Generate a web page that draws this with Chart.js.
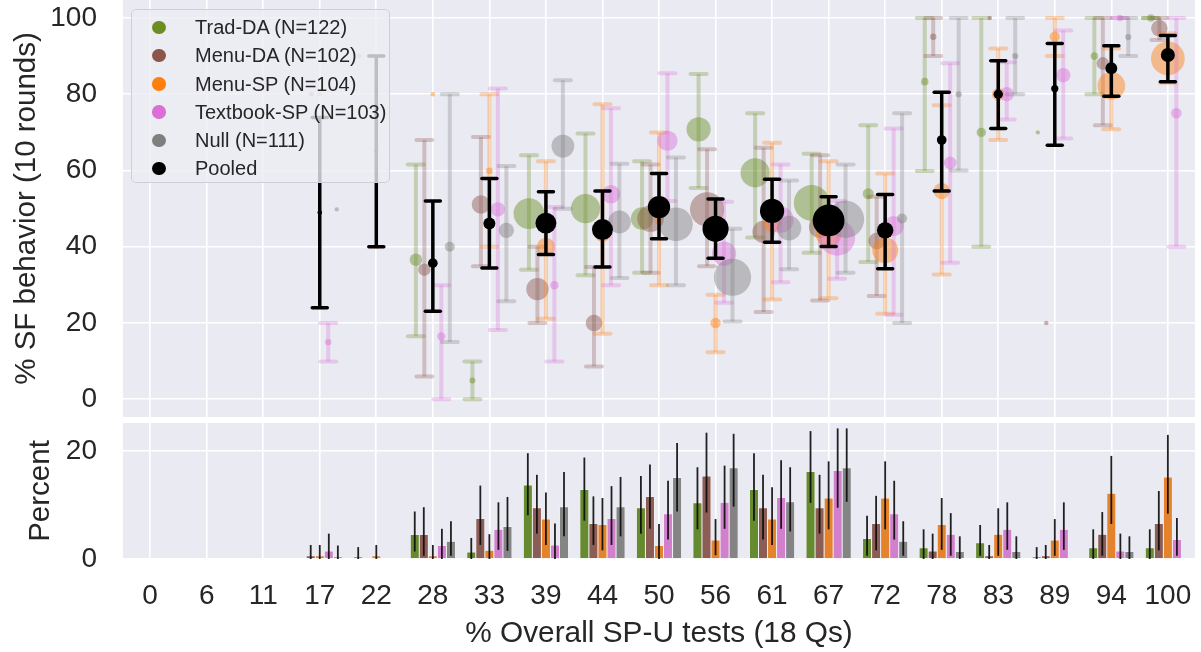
<!DOCTYPE html>
<html>
<head>
<meta charset="UTF-8" />
<script src="https://cdn.jsdelivr.net/npm/chart.js"></script>
<style>
  body { margin: 0; background: #fff; }
  #wrap { position: relative; width: 1201px; height: 652px; font-family: "Liberation Sans", Arial, sans-serif; color: #262626; }
  #topChart { position: absolute; left: 0; top: 0; }
  #bottomChart { position: absolute; left: 0; top: 420px; }
  .legend {
    position: absolute; left: 131px; top: 9px; width: 259px; height: 174px;
    background: rgba(236, 236, 243, 0.8); border: 1.5px solid #cfcfd4; border-radius: 5px;
    font-size: 20px; box-sizing: border-box; padding-top: 3px;
  }
  .legend div { height: 28.3px; line-height: 28.3px; position: relative; padding-left: 63px; white-space: nowrap; }
  .legend span { position: absolute; left: 20px; top: 7.5px; width: 13.5px; height: 13.5px; border-radius: 50%; }
</style>
</head>
<body>
<div id="wrap">
  <canvas id="topChart" width="1201" height="417"></canvas>
  <canvas id="bottomChart" width="1201" height="232"></canvas>
  <div class="legend" id="legend"></div>
</div>
<script>
// x categories (% overall SP-U tests)
const labels = ["0", "6", "11", "17", "22", "28", "33", "39", "44", "50", "56", "61", "67", "72", "78", "83", "89", "94", "100"];
const topTicks = [0, 20, 40, 60, 80, 100];
const bottomTicks = [0, 20];

const groupNames = ["Trad-DA (N=122)", "Menu-DA (N=102)", "Menu-SP (N=104)", "Textbook-SP (N=103)", "Null (N=111)"];
const groupN = [122, 102, 104, 103, 111];

// top panel: mean % SF behavior and CI per group
const tradMean = [null, null, null, null, 90, 36.6, 4.9, 48.7, 50, 47.4, 70.8, 59.4, 51.5, 53.9, 83.3, 70, 70, 90, 100];
const tradLo   = [null, null, null, null, null, 16.5, 0, 34, 32.5, 33.2, 55.4, 42.4, 38.4, 36, 59.9, 40, null, 80, 100];
const tradHi   = [null, null, null, null, null, 61.6, 9.9, 64, 69.7, 62.4, 85.3, 75, 64.4, 71.9, 100, 100, null, 100, 100];

const menuDAMean = [null, null, null, 80, null, 34, 51.1, 28.9, 20, 47.4, 49.8, 43.9, 45.2, 41.5, 95.1, 100, 20, 88.1, 97.3];
const menuDALo   = [null, null, null, null, null, 6, 34.9, 20, 8.6, 33.2, 34.9, 22.9, 25.9, 27.1, 90, null, null, 71.9, 94.2];
const menuDAHi   = [null, null, null, null, null, 68, 68.8, 40, 34.7, 61.6, 65.6, 66, 64, 53.1, 100, null, null, 100, 100];

const menuSPMean = [null, null, null, 80, 40, 80, 59.9, 40, 43.4, 46.9, 20, 46.2, 43.4, 39.1, 54.6, 80, 95.1, 82.2, 89.4];
const menuSPLo   = [null, null, null, null, null, null, 40, 21.1, 17.2, 29.9, 12.3, 26.2, 26.5, 22.4, 32.7, 68, 90, 70.8, 83];
const menuSPHi   = [null, null, null, null, null, null, 80, 62.4, 77.4, 70, 27.4, 67.3, 62.4, 59.2, 77.1, 92, 100, 92, 96];

const textMean = [null, null, null, 15, null, 16.5, 49.8, 29.9, 53.8, 67.8, 38.2, 47.1, 42.4, 45.4, 62, 80, 85, 100, 75];
const textLo   = [null, null, null, 9.9, null, 0, 18.2, 9.9, 29.9, 52, 25.3, 30.7, 31.6, 22.2, 35.8, 73.4, 68.4, 100, 40];
const textHi   = [null, null, null, 20, null, 29.9, 81.5, 50.4, 76.3, 85.5, 51.8, 61.6, 52, 71, 88.1, 88.4, 96.7, 100, 100];

const nullMean = [null, null, null, 49.8, null, 40, 44.3, 66.4, 46.5, 45.9, 32, 44.9, 47.2, 47.4, 80, 90, null, 95, null];
const nullLo   = [null, null, null, null, null, 15, 25.7, 50, 31.8, 29.9, 20.4, 34.1, 33.2, 20, 60, 80, null, 90, null];
const nullHi   = [null, null, null, null, null, 80, 61.2, 83.7, 61.8, 63.4, 44.7, 57.4, 61.6, 75, 100, 100, null, 100, null];

const pooledMean = [null, null, null, 49, 65, 35.7, 46.1, 46.2, 44.5, 50.4, 44.7, 49.4, 46.9, 44.3, 68, 80, 81.5, 86.8, 90.3];
const pooledLo   = [null, null, null, 24, 40, 23.1, 34.4, 38, 34.7, 42.1, 37, 41.2, 40.1, 34.2, 54.6, 71, 66.6, 79.5, 83.3];
const pooledHi   = [null, null, null, 73.9, 90, 52, 57.9, 54.4, 54.6, 59.2, 52.5, 57.7, 53.1, 53.7, 80.5, 88.8, 93.3, 92.7, 95.4];

// bottom panel: percent of each group in each category, with CI
const tradPct   = [0, 0, 0, 0, 0.4, 4.55, 1.3, 13.7, 12.9, 9.5, 10.4, 12.9, 16.2, 3.8, 2.1, 3.0, 0.4, 2.1, 2.1];
const tradPctLo = [0, 0, 0, 0, 0, 1.4, 0, 8.1, 7.1, 4.7, 5.5, 7.1, 10.4, 0.6, 0, 0.6, 0, 0, 0];
const tradPctHi = [0, 0, 0, 0, 2.2, 8.8, 3.9, 19.6, 18.8, 15.4, 17.0, 19.6, 23.7, 8.0, 5.5, 6.3, 2.2, 5.5, 5.5];

const menuDAPct   = [0, 0, 0, 0.6, 0, 4.55, 7.5, 9.5, 6.6, 11.6, 15.4, 9.5, 9.5, 6.6, 1.5, 0.6, 0.6, 4.6, 6.6];
const menuDAPctLo = [0, 0, 0, 0, 0, 0.6, 2.6, 4.7, 2.6, 5.6, 8.6, 3.6, 4.7, 1.6, 0, 0, 0, 0.6, 1.6];
const menuDAPctHi = [0, 0, 0, 2.6, 0, 9.6, 13.6, 15.6, 11.6, 17.5, 23.4, 15.6, 15.6, 11.7, 4.7, 2.6, 2.6, 8.7, 12.6];

const menuSPPct   = [0, 0, 0, 0.6, 0.6, 0.6, 1.6, 7.4, 6.4, 2.5, 3.5, 7.4, 11.3, 11.3, 6.4, 4.6, 3.5, 12.2, 15.2];
const menuSPPctLo = [0, 0, 0, 0, 0, 0, 0, 2.6, 1.6, 0, 0.7, 2.6, 5.5, 5.5, 1.7, 0.6, 0.6, 6.5, 8.4];
const menuSPPctHi = [0, 0, 0, 2.6, 2.6, 2.6, 4.6, 12.3, 11.3, 6.5, 7.4, 13.3, 18.1, 18.1, 11.3, 9.4, 7.4, 19.1, 23.0];

const textPct   = [0, 0, 0, 1.5, 0, 2.5, 5.5, 2.6, 7.5, 8.4, 10.5, 11.4, 16.4, 8.4, 4.6, 5.5, 5.5, 1.5, 3.6];
const textPctLo = [0, 0, 0, 0, 0, 0, 1.7, 0, 2.6, 3.6, 5.6, 5.6, 9.5, 3.6, 0.6, 1.7, 1.7, 0, 0.6];
const textPctHi = [0, 0, 0, 4.7, 0, 5.6, 10.5, 6.6, 13.5, 14.5, 17.3, 18.3, 24.2, 14.5, 8.5, 10.5, 10.5, 4.7, 7.6];

const nullPct   = [0, 0, 0, 0.4, 0, 3.3, 6.0, 9.7, 9.7, 15.1, 16.9, 10.6, 16.9, 3.3, 1.4, 1.4, 0, 1.4, 0];
const nullPctLo = [0, 0, 0, 0, 0, 0.6, 1.5, 4.2, 4.2, 8.8, 9.7, 5.1, 10.6, 0.6, 0, 0, 0, 0, 0];
const nullPctHi = [0, 0, 0, 2.5, 0, 7.0, 11.5, 16.1, 15.2, 21.5, 23.2, 17.0, 24.2, 7.0, 4.2, 4.2, 0, 4.2, 0];

// colours
const pointColors = ["#6b8e23", "#8c564b", "#ff7f0e", "#da70d6", "#7f7f7f"];
const barColors = ["#668a2e", "#8c5d54", "#e5822c", "#d27fcd", "#848484"];
const offsets = [-0.3, -0.15, 0, 0.15, 0.3];

const means = [tradMean, menuDAMean, menuSPMean, textMean, nullMean];
const los = [tradLo, menuDALo, menuSPLo, textLo, nullLo];
const his = [tradHi, menuDAHi, menuSPHi, textHi, nullHi];
const pcts = [tradPct, menuDAPct, menuSPPct, textPct, nullPct];
const pctLos = [tradPctLo, menuDAPctLo, menuSPPctLo, textPctLo, nullPctLo];
const pctHis = [tradPctHi, menuDAPctHi, menuSPPctHi, textPctHi, nullPctHi];

// pooled share of participants in each category (weighted by N)
const totalN = groupN.reduce((a, b) => a + b, 0);
const pooledPct = labels.map((_, i) => pcts.reduce((s, p, g) => s + p[i] * groupN[g], 0) / totalN);

function rgba(hex, a) {
  const n = parseInt(hex.slice(1), 16);
  return `rgba(${(n >> 16) & 255},${(n >> 8) & 255},${n & 255},${a})`;
}

const FONT = "'Liberation Sans', Arial, sans-serif";
const TEXT = "#262626";

const areaBg = {
  id: "areaBg",
  beforeDraw(chart) {
    const { ctx, chartArea: a } = chart;
    ctx.save();
    ctx.fillStyle = "#eaeaf2";
    ctx.fillRect(a.left, a.top, a.right - a.left, a.bottom - a.top);
    ctx.restore();
  }
};

// error bars for the scatter panel, drawn just before each dataset's points
const scatterErrors = {
  id: "scatterErrors",
  beforeDatasetDraw(chart, args) {
    const ds = chart.data.datasets[args.index];
    if (!ds.errLo) return;
    const { ctx, chartArea: a } = chart;
    const xs = chart.scales.x, ys = chart.scales.y;
    ctx.save();
    ctx.beginPath();
    ctx.rect(a.left, a.top, a.right - a.left, a.bottom - a.top);
    ctx.clip();
    ctx.strokeStyle = ds.errColor;
    ctx.lineWidth = ds.errWidth;
    ds.data.forEach(p => {
      const lo = ds.errLo[p.i], hi = ds.errHi[p.i];
      if (lo == null || hi == null) return;
      const px = xs.getPixelForValue(p.x);
      const y1 = ys.getPixelForValue(lo), y2 = ys.getPixelForValue(hi);
      ctx.lineCap = "butt";
      ctx.beginPath();
      ctx.moveTo(px, y1);
      ctx.lineTo(px, y2);
      ctx.stroke();
      ctx.lineCap = "round";
      [y1, y2].forEach(yy => {
        ctx.beginPath();
        ctx.moveTo(px - ds.capHalf, yy);
        ctx.lineTo(px + ds.capHalf, yy);
        ctx.stroke();
      });
    });
    ctx.restore();
  }
};

// vertical error lines for the bars
const barErrors = {
  id: "barErrors",
  afterDatasetsDraw(chart) {
    const { ctx } = chart;
    const ys = chart.scales.y;
    ctx.save();
    ctx.strokeStyle = "rgba(10,10,10,0.9)";
    ctx.lineWidth = 1.8;
    chart.data.datasets.forEach((ds, d) => {
      const meta = chart.getDatasetMeta(d);
      meta.data.forEach((bar, j) => {
        const hi = ds.errHi[j], lo = ds.errLo[j];
        if (!hi) return;
        ctx.beginPath();
        ctx.moveTo(bar.x, ys.getPixelForValue(lo));
        ctx.lineTo(bar.x, ys.getPixelForValue(hi));
        ctx.stroke();
      });
    });
    ctx.restore();
  }
};

const idxTicks = labels.map((_, i) => ({ value: i }));
// keep the plot area fixed: no label overflow padding
function noPad(s) { s.paddingTop = 0; s.paddingBottom = 0; s.paddingLeft = 0; s.paddingRight = 0; }

// ---- top panel ----
const topSets = groupNames.map((name, g) => ({
  label: name,
  order: 5 - g,
  data: labels.map((_, i) => ({ x: i + offsets[g], y: means[g][i], i })).filter(p => p.y != null),
  backgroundColor: rgba(pointColors[g], 0.45),
  borderWidth: 0,
  pointRadius: c => 1.7 + pcts[g][c.raw.i],
  errLo: los[g], errHi: his[g],
  errColor: rgba(pointColors[g], 0.3), errWidth: 4, capHalf: 8
}));
topSets.push({
  label: "Pooled",
  order: 0,
  data: labels.map((_, i) => ({ x: i, y: pooledMean[i], i })).filter(p => p.y != null),
  backgroundColor: "#000",
  borderWidth: 0,
  pointRadius: c => 1.7 + pooledPct[c.raw.i],
  errLo: pooledLo, errHi: pooledHi,
  errColor: "#000", errWidth: 3.5, capHalf: 7.5
});

new Chart(document.getElementById("topChart"), {
  type: "scatter",
  data: { datasets: topSets },
  plugins: [areaBg, scatterErrors],
  options: {
    responsive: false,
    animation: false,
    devicePixelRatio: 1,
    layout: { autoPadding: false, padding: { left: 0, right: 6, top: 0, bottom: 0 } },
    plugins: { legend: { display: false }, tooltip: { enabled: false } },
    scales: {
      x: {
        type: "linear", min: -0.48, max: 18.48,
        afterBuildTicks: s => { s.ticks = idxTicks.map(t => ({ ...t })); },
        afterFit: s => { s.height = 0; noPad(s); },
        ticks: { display: false },
        border: { display: false },
        grid: { color: "#ffffff", lineWidth: 1.6, drawTicks: false }
      },
      y: {
        min: -4.65, max: 104.72,
        afterBuildTicks: s => { s.ticks = topTicks.map(v => ({ value: v })); },
        afterFit: s => { s.width = 123; noPad(s); },
        ticks: { color: TEXT, font: { family: FONT, size: 28 }, padding: 26 },
        border: { display: false },
        grid: { color: "#ffffff", lineWidth: 1.6, drawTicks: false },
        title: { display: true, text: "% SF behavior (10 rounds)", color: TEXT, font: { family: FONT, size: 29.5 }, padding: { top: 9, bottom: 0 } }
      }
    }
  }
});

// ---- bottom panel ----
const barSets = groupNames.map((name, g) => ({
  label: name,
  data: labels.map((_, i) => ({ x: i, y: pcts[g][i] > 0 ? pcts[g][i] : null })),
  backgroundColor: barColors[g],
  borderColor: "rgba(255,255,255,0.85)",
  borderWidth: 0.5,
  errLo: pctLos[g], errHi: pctHis[g],
  categoryPercentage: 0.8,
  barPercentage: 1
}));

new Chart(document.getElementById("bottomChart"), {
  type: "bar",
  data: { datasets: barSets },
  plugins: [areaBg, barErrors],
  options: {
    responsive: false,
    animation: false,
    devicePixelRatio: 1,
    layout: { autoPadding: false, padding: { left: 0, right: 6, top: 3, bottom: 0 } },
    plugins: { legend: { display: false }, tooltip: { enabled: false } },
    scales: {
      x: {
        type: "linear", min: -0.48, max: 18.48, offset: false,
        afterBuildTicks: s => { s.ticks = idxTicks.map(t => ({ ...t })); },
        afterFit: s => { s.height = 93; noPad(s); },
        ticks: { color: TEXT, font: { family: FONT, size: 28 }, padding: 20, callback: v => labels[v] },
        border: { display: false },
        grid: { color: "#ffffff", lineWidth: 1.6, drawTicks: false, offset: false },
        title: { display: true, text: "% Overall SP-U tests (18 Qs)", color: TEXT, font: { family: FONT, size: 29.8 }, padding: { top: 0, bottom: 0 } }
      },
      y: {
        min: 0, max: 25.2,
        afterBuildTicks: s => { s.ticks = bottomTicks.map(v => ({ value: v })); },
        afterFit: s => { s.width = 123; noPad(s); },
        ticks: { color: TEXT, font: { family: FONT, size: 28 }, padding: 26 },
        border: { display: false },
        grid: { color: "#ffffff", lineWidth: 1.6, drawTicks: false },
        title: { display: true, text: "Percent", color: TEXT, font: { family: FONT, size: 29.5 }, padding: { top: 23, bottom: 0 } }
      }
    }
  }
});

// legend overlay inside the top panel
const legendEl = document.getElementById("legend");
groupNames.concat(["Pooled"]).forEach((name, g) => {
  const row = document.createElement("div");
  const dot = document.createElement("span");
  dot.style.background = g < 5 ? pointColors[g] : "#000";
  row.appendChild(dot);
  row.appendChild(document.createTextNode(name));
  legendEl.appendChild(row);
});
</script>
</body>
</html>
